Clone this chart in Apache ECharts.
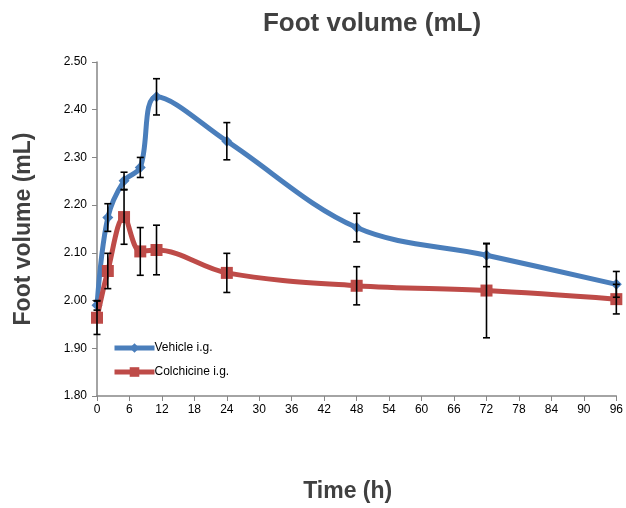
<!DOCTYPE html>
<html><head><meta charset="utf-8">
<script src="https://cdn.jsdelivr.net/npm/echarts@6/dist/echarts.min.js"></script>
<style>html,body{margin:0;padding:0;background:#fff}#c{width:626px;height:508px}</style>
</head><body><div id="c"></div>
<script>
var times = [0, 2, 5, 8, 11, 24, 48, 72, 96];
var vehicle = [1.99, 2.174, 2.251, 2.279, 2.427, 2.334, 2.153, 2.095, 2.034];
var vehicleErr = [0.01, 0.029, 0.018, 0.021, 0.038, 0.039, 0.030, 0.024, 0.027];
var colchicine = [1.964, 2.062, 2.175, 2.103, 2.106, 2.058, 2.031, 2.021, 2.003];
var colchicineErr = [0.035, 0.037, 0.057, 0.050, 0.052, 0.041, 0.040, 0.099, 0.031];
var xTicks = [0, 6, 12, 18, 24, 30, 36, 42, 48, 54, 60, 66, 72, 78, 84, 90, 96];
var yTicks = [1.80, 1.90, 2.00, 2.10, 2.20, 2.30, 2.40, 2.50];

function pairs(xs, ys) { return xs.map(function (x, i) { return [x, ys[i]]; }); }
function errData(xs, ys, es) { return xs.map(function (x, i) { return [x, ys[i] - es[i], ys[i] + es[i]]; }); }
function errRender(params, api) {
  var lo = api.coord([api.value(0), api.value(1)]);
  var hi = api.coord([api.value(0), api.value(2)]);
  var w = 3.5;
  var st = { stroke: '#000', lineWidth: 1.6 };
  return { type: 'group', children: [
    { type: 'line', shape: { x1: lo[0], y1: lo[1], x2: hi[0], y2: hi[1] }, style: st },
    { type: 'line', shape: { x1: lo[0] - w, y1: lo[1], x2: lo[0] + w, y2: lo[1] }, style: st },
    { type: 'line', shape: { x1: hi[0] - w, y1: hi[1], x2: hi[0] + w, y2: hi[1] }, style: st }
  ]};
}

var chart = echarts.init(document.getElementById('c'));
var labelFont = { fontFamily: 'Liberation Sans', fontSize: 12, color: '#000' };
chart.setOption({
  animation: false,
  textStyle: { fontFamily: 'Liberation Sans' },
  title: { text: 'Foot volume (mL)', left: 367, top: 6, textAlign: 'center',
    textStyle: { fontFamily: 'Liberation Sans', fontSize: 26, fontWeight: 'bold', color: '#404040' } },
  grid: { left: 97, right: 6, top: 62, bottom: 109, containLabel: false },
  legend: {
    orient: 'vertical', left: 107, top: 337, itemWidth: 40, itemHeight: 12, itemGap: 12,
    data: ['Vehicle i.g.', 'Colchicine i.g.'],
    lineStyle: { width: 5 },
    textStyle: { fontFamily: 'Liberation Sans', fontSize: 12, color: '#000', padding: [0, 0, 0, -5] }
  },
  xAxis: {
    type: 'value', min: 0, max: 96, interval: 6,
    name: 'Time (h)', nameLocation: 'middle', nameGap: 84,
    nameTextStyle: { fontFamily: 'Liberation Sans', fontSize: 23, fontWeight: 'bold', color: '#404040', padding: [0, 18, 0, 0] },
    axisLine: { lineStyle: { color: '#868686', width: 1.5 } },
    axisTick: { show: true, length: 5, lineStyle: { color: '#868686' } },
    axisLabel: Object.assign({ margin: 8, formatter: function (v) { return xTicks.indexOf(v) >= 0 ? String(v) : ''; } }, labelFont),
    splitLine: { show: false }
  },
  yAxis: {
    type: 'value', min: 1.8, max: 2.5, interval: 0.1,
    name: 'Foot volume (mL)', nameLocation: 'middle', nameGap: 62, nameRotate: 90,
    nameTextStyle: { fontFamily: 'Liberation Sans', fontSize: 23, fontWeight: 'bold', color: '#404040' },
    axisLine: { show: true, lineStyle: { color: '#868686', width: 1.5 } },
    axisTick: { show: true, length: 5, lineStyle: { color: '#868686' } },
    axisLabel: Object.assign({ margin: 10, formatter: function (v) { return v.toFixed(2); } }, labelFont),
    splitLine: { show: false }
  },
  series: [
    { name: 'Vehicle i.g.', type: 'line', smooth: 0.35, data: pairs(times, vehicle),
      symbol: 'diamond', symbolSize: 11, color: '#4A7EBB',
      lineStyle: { width: 5, color: '#4A7EBB' }, itemStyle: { color: '#4A7EBB' }, z: 3 },
    { name: 'Colchicine i.g.', type: 'line', smooth: 0.35, data: pairs(times, colchicine),
      symbol: 'rect', symbolSize: 12, color: '#BE4B48',
      lineStyle: { width: 5, color: '#BE4B48' }, itemStyle: { color: '#BE4B48' }, z: 4 },
    { type: 'custom', renderItem: errRender, data: errData(times, vehicle, vehicleErr), z: 10, silent: true },
    { type: 'custom', renderItem: errRender, data: errData(times, colchicine, colchicineErr), z: 10, silent: true }
  ]
});
</script></body></html>
